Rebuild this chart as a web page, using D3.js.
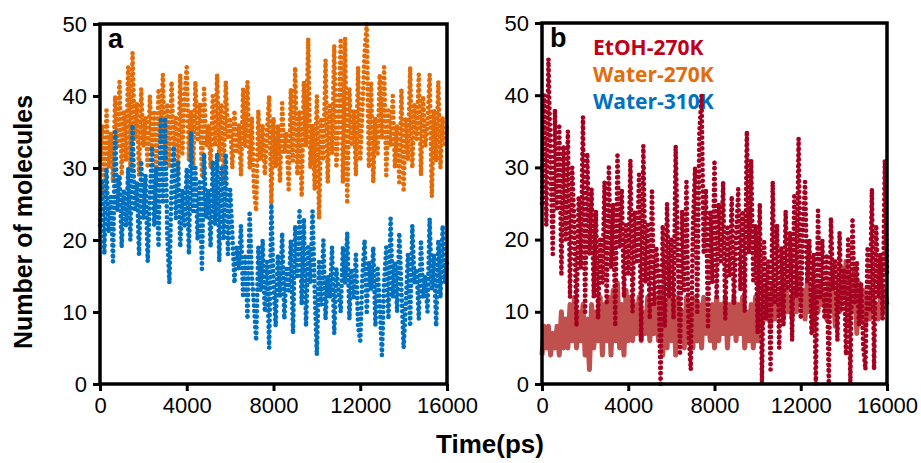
<!DOCTYPE html>
<html>
<head>
<meta charset="utf-8">
<script src="https://cdn.jsdelivr.net/npm/d3@7"></script>
<style>
  body { margin: 0; background: #fff; }
  text { font-family: "Liberation Sans", Arial, sans-serif; }
</style>
</head>
<body>
<svg id="chart" width="921" height="463"></svg>
<script>
// time axis: one value every 100 ps, 0..16000
const step = 100;
const xTicks = [0, 4000, 8000, 12000, 16000];
const yTicks = [0, 10, 20, 30, 40, 50];

// panel a
const water270 = [
  31,36,26,38,30,35,28,40,33,42,29,
  38,31,44,30,46,34,39,29,41,33,
  37,30,40,32,38,29,41,34,43,31,
  39,30,42,33,37,29,43,32,40,44,
  31,38,30,42,34,39,29,41,33,36,
  30,40,33,43,31,39,28,42,34,37,
  30,38,32,36,29,41,33,42,30,37,
  27,24,38,31,36,29,35,40,25,37,
  30,36,28,39,32,35,27,41,31,44,
  29,38,26,42,33,48,30,36,27,40,
  23,37,31,45,28,39,32,47,30,36,
  48,28,48,25,41,33,38,29,44,31,
  38,46,50,30,42,28,37,32,43,34,
  44,29,38,33,40,30,36,28,41,27,
  37,31,44,30,39,34,43,29,40,33,
  36,43,26,38,31,42,30,37,33,36
];
const water310 = [
  22,28,18,30,21,26,17,35,24,29,19,
  27,22,30,20,36,24,28,18,31,23,
  29,17,26,33,22,30,19,37,25,37,
  21,14,28,33,23,31,19,27,22,30,
  18,35,24,30,20,28,16,32,23,27,
  19,31,22,32,17,30,20,32,18,27,
  21,14,19,16,22,12,18,9,24,15,
  11,6,19,13,20,10,17,5,25,14,
  8,18,12,21,9,16,13,20,7,22,
  15,24,11,23,8,19,14,24,13,4,
  17,11,20,9,15,12,19,7,16,13,
  10,19,14,21,9,16,12,18,8,6,
  15,20,10,17,13,19,8,16,11,4,
  14,19,9,23,12,17,10,21,13,5,
  11,18,8,22,14,16,9,20,12,15,
  10,23,13,18,8,20,12,22,14,17
];

// panel b
const etoh270 = [
  25,40,22,45,30,18,38,24,36,15,33,
  20,35,12,30,22,8,26,16,37,10,
  32,18,27,12,24,9,20,14,28,11,
  30,16,25,8,32,19,27,12,22,15,
  31,10,24,17,29,6,33,14,22,9,
  27,11,19,15,0,22,8,25,12,20,
  9,33,18,4,24,13,28,7,2,22,
  30,10,35,40,18,27,8,24,14,31,
  12,25,17,28,9,22,15,26,11,20,
  27,13,24,10,35,18,31,14,22,7,
  25,0,20,9,17,2,28,11,22,5,
  19,8,24,13,21,6,26,12,34,9,
  22,28,14,20,7,18,0,24,12,20,
  9,18,0,23,13,17,6,21,10,16,
  4,20,0,23,11,17,8,14,5,2,
  19,10,27,2,22,12,18,9,31,15
];
const etohBand = [
  4,8,5,8,4,7,5,8,4,10,5,
  9,5,11,6,12,5,10,6,11,4,
  9,2,11,5,10,6,12,4,11,6,
  12,4,13,6,14,5,11,4,13,6,
  12,6,11,7,12,6,10,7,12,6,
  11,7,12,6,13,4,11,5,12,6,
  11,4,12,6,10,5,12,6,11,5,
  12,6,11,5,12,7,10,6,11,5,
  12,6,11,7,12,5,11,7,12,6,
  11,7,12,5,10,6,11,5,12,6,
  11,8,13,9,12,8,14,9,12,10,
  13,9,14,10,12,9,13,10,15,11,
  13,9,14,10,12,8,13,10,14,11,
  12,9,14,10,13,8,12,10,16,12,
  17,8,15,10,16,7,14,9,13,8,
  12,9,13,10,11,9,12,10,13,11
];

const legendNames = ["EtOH-270K", "Water-270K", "Water-310K"];
const legendColors = ["#c00018", "#e36c09", "#0070c0"];

const svg = d3.select("#chart");

function panel(left, right, top, label, series, legend) {
  const x = d3.scaleLinear().domain([0, 16000]).range([left, right]);
  const y = d3.scaleLinear().domain([0, 50]).range([384, top]);
  const g = svg.append("g");

  if (legend) {
    g.selectAll("text.leg")
      .data(legendNames)
      .join("text")
      .attr("class", "leg")
      .attr("x", left + 51)
      .attr("y", (d, i) => 55 + i * 27)
      .style("font-family", "'Open Sans', sans-serif")
      .style("font-weight", "bold")
      .style("font-size", "21px")
      .attr("fill", (d, i) => legendColors[i])
      .text(d => d);
  }

  const line = d3.line().x((d, i) => x(i * step)).y(d => y(d));
  series.forEach(s => {
    g.append("path")
      .datum(s.values)
      .attr("fill", "none")
      .attr("stroke", s.color)
      .attr("stroke-width", s.solid ? 5 : 4.7)
      .attr("stroke-linecap", s.solid ? "butt" : "round")
      .attr("stroke-linejoin", "round")
      .attr("stroke-dasharray", s.solid ? null : "0,5.4")
      .attr("d", line);
  });

  // frame
  g.append("rect")
    .attr("x", left).attr("y", top)
    .attr("width", right - left).attr("height", 384 - top)
    .attr("fill", "none").attr("stroke", "#000").attr("stroke-width", 3.5);

  const yAxis = g.append("g").attr("transform", `translate(${left},0)`)
    .call(d3.axisLeft(y).tickValues(yTicks).tickSize(7).tickPadding(6));
  const xAxis = g.append("g").attr("transform", "translate(0,384)")
    .call(d3.axisBottom(x).tickValues(xTicks).tickSize(7).tickPadding(6).tickFormat(d3.format("d")));
  [yAxis, xAxis].forEach(a => {
    a.select(".domain").remove();
    a.selectAll("line").attr("stroke", "#000").attr("stroke-width", 3);
    a.selectAll("text").attr("fill", "#000")
      .style("font-family", "'Liberation Sans', Arial, sans-serif")
      .style("font-size", "22px");
  });

  g.append("text")
    .attr("x", left + 8).attr("y", top + 24)
    .style("font-weight", "bold").style("font-size", "27px")
    .text(label);
}

panel(100, 447, 24, "a", [
  { values: water270, color: "#e36c09" },
  { values: water310, color: "#0070c0" }
], false);

panel(542, 887, 23, "b", [
  { values: etohBand, color: "#c0504d", solid: true },
  { values: etoh270, color: "#a50021" }
], true);

svg.append("text")
  .attr("transform", "translate(32,222) rotate(-90)")
  .attr("text-anchor", "middle")
  .style("font-weight", "bold").style("font-size", "25px")
  .text("Number of molecules");

svg.append("text")
  .attr("x", 490).attr("y", 453)
  .attr("text-anchor", "middle")
  .style("font-weight", "bold").style("font-size", "26px")
  .text("Time(ps)");
</script>
</body>
</html>
